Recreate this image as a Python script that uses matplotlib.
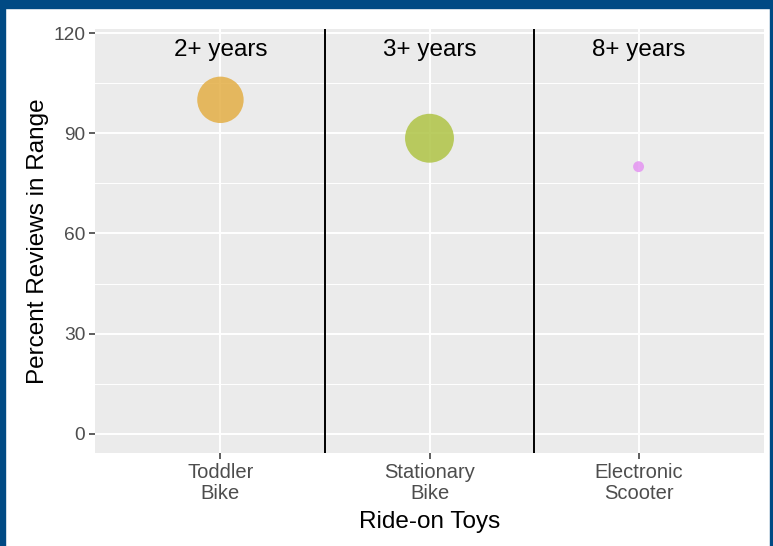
import matplotlib
matplotlib.use("Agg")
import matplotlib.pyplot as plt
from matplotlib.patches import Rectangle

plt.rcParams['font.family'] = ['Liberation Sans', 'DejaVu Sans']

categories = ["Toddler\nBike", "Stationary\nBike", "Electronic\nScooter"]
age_labels = ["2+ years", "3+ years", "8+ years"]
percent_in_range = [100, 88.5, 80]
review_counts = [18, 20, 1]
colors = ["#E3AE45", "#AFC445", "#E494F2"]

fig = plt.figure(figsize=(7.73, 5.46), dpi=100)
W, H = 773, 546
ax = fig.add_axes([95 / W, 1 - 453 / H, (764 - 95) / W, (453 - 29) / H])
ax.set_facecolor("#EBEBEB")

x = list(range(1, len(categories) + 1))
ax.set_xlim(0.4, 3.6)
ax.set_ylim(-5.7, 121.2)

# grid
for yv in [15, 45, 75, 105]:
    ax.axhline(yv, color="white", lw=0.7, zorder=0)
for yv in [0, 30, 60, 90, 120]:
    ax.axhline(yv, color="white", lw=1.4, zorder=0)
for xv in x:
    ax.axvline(xv, color="white", lw=1.4, zorder=0)

# separators
for xv in [1.5, 2.5]:
    ax.axvline(xv, color="black", lw=1.4, zorder=1)

sizes = [c * 62 for c in review_counts]
ax.scatter(x, percent_in_range, s=sizes, c=colors, alpha=0.85, edgecolors="none", zorder=3)

for xi, lab in zip(x, age_labels):
    ax.text(xi, 115.0, lab, ha="center", va="center", fontsize=17.5, color="black")

ax.set_xticks(x)
ax.set_xticklabels(categories, fontsize=14.5, color="#4D4D4D", linespacing=1.15)
ax.set_yticks([0, 30, 60, 90, 120])
ax.set_yticklabels(["0", "30", "60", "90", "120"], fontsize=13.8, color="#4D4D4D")
ax.tick_params(axis="both", length=4.5, width=1.1, color="#333333", pad=2.5)
for sp in ax.spines.values():
    sp.set_visible(False)

ax.set_xlabel("Ride-on Toys", fontsize=17.5, labelpad=6)
ax.set_ylabel("Percent Reviews in Range", fontsize=17.5, labelpad=3)

# blue frame
blue = "#004A84"
fig.patches.append(Rectangle((0, 1 - 8 / H), 1, 8 / H, transform=fig.transFigure, color=blue, zorder=10))
fig.patches.append(Rectangle((0, 0), 5 / W, 1, transform=fig.transFigure, color=blue, zorder=10))
fig.patches.append(Rectangle((1 - 3 / W, 0), 3 / W, 1, transform=fig.transFigure, color=blue, zorder=10))

fig.savefig("out.png", dpi=100)
